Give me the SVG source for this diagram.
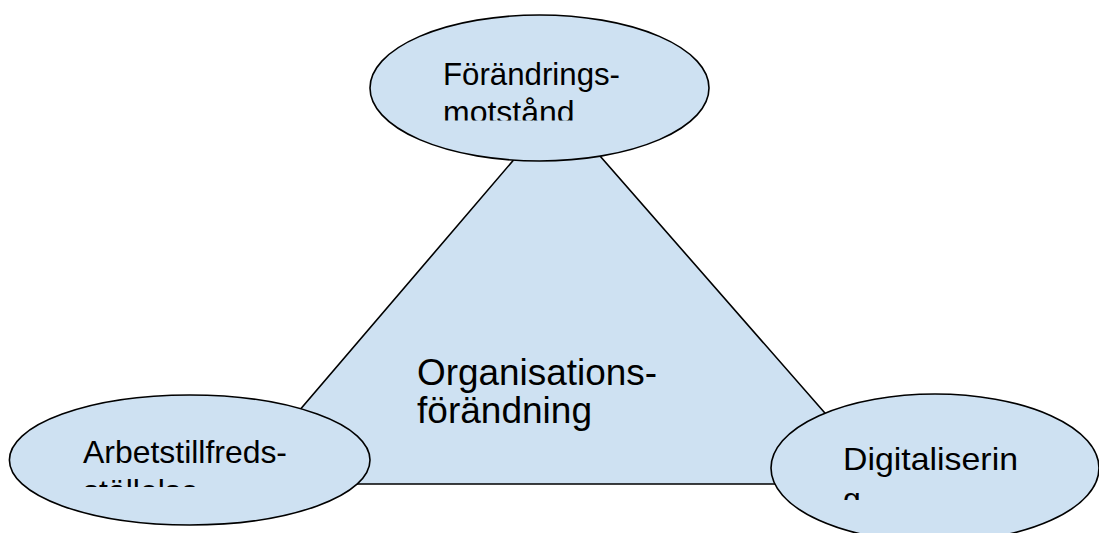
<svg xmlns="http://www.w3.org/2000/svg" width="1099" height="533" viewBox="0 0 1099 533">
  <style>
    .shape { fill: #cee1f2; stroke: #000; stroke-width: 1.6; }
    .label { font-family: "Liberation Sans", Arial, sans-serif; fill: #000; }
    .small { font-size: 32px; }
    .big { font-size: 36px; }
  </style>
  <defs>
    <!-- text boxes inside the ellipses cut off the overflowing second line -->
    <clipPath id="clip-top"><rect x="380" y="40" width="320" height="80.5"/></clipPath>
    <clipPath id="clip-left"><rect x="30" y="420" width="320" height="67"/></clipPath>
    <clipPath id="clip-right"><rect x="800" y="425" width="280" height="75"/></clipPath>
  </defs>

  <rect width="1099" height="533" fill="#fff"/>

  <g id="node-organisationsforandring">
    <polygon class="shape" points="558,108 236.5,484 887,484"/>
    <text class="label big" x="417" y="385" textLength="240" lengthAdjust="spacingAndGlyphs">Organisations-</text>
    <text class="label big" x="417" y="423" textLength="175" lengthAdjust="spacingAndGlyphs">förändning</text>
  </g>

  <g id="node-forandringsmotstand">
    <ellipse class="shape" cx="539.5" cy="88" rx="169.5" ry="73"/>
    <g clip-path="url(#clip-top)">
      <text class="label small" x="443" y="85" textLength="177" lengthAdjust="spacingAndGlyphs">Förändrings-</text>
      <text class="label small" x="443" y="123">motstånd</text>
    </g>
  </g>

  <g id="node-arbetstillfredsstallelse">
    <ellipse class="shape" cx="189.7" cy="460" rx="180.3" ry="65"/>
    <g clip-path="url(#clip-left)">
      <text class="label small" x="83" y="463" textLength="204" lengthAdjust="spacingAndGlyphs">Arbetstillfreds-</text>
      <text class="label small" x="83" y="502">ställelse</text>
    </g>
  </g>

  <g id="node-digitalisering">
    <ellipse class="shape" cx="935" cy="468" rx="164" ry="74"/>
    <g clip-path="url(#clip-right)">
      <text class="label small" x="843" y="470" textLength="175" lengthAdjust="spacingAndGlyphs">Digitaliserin</text>
      <text class="label small" x="843" y="510">g</text>
    </g>
  </g>
</svg>
